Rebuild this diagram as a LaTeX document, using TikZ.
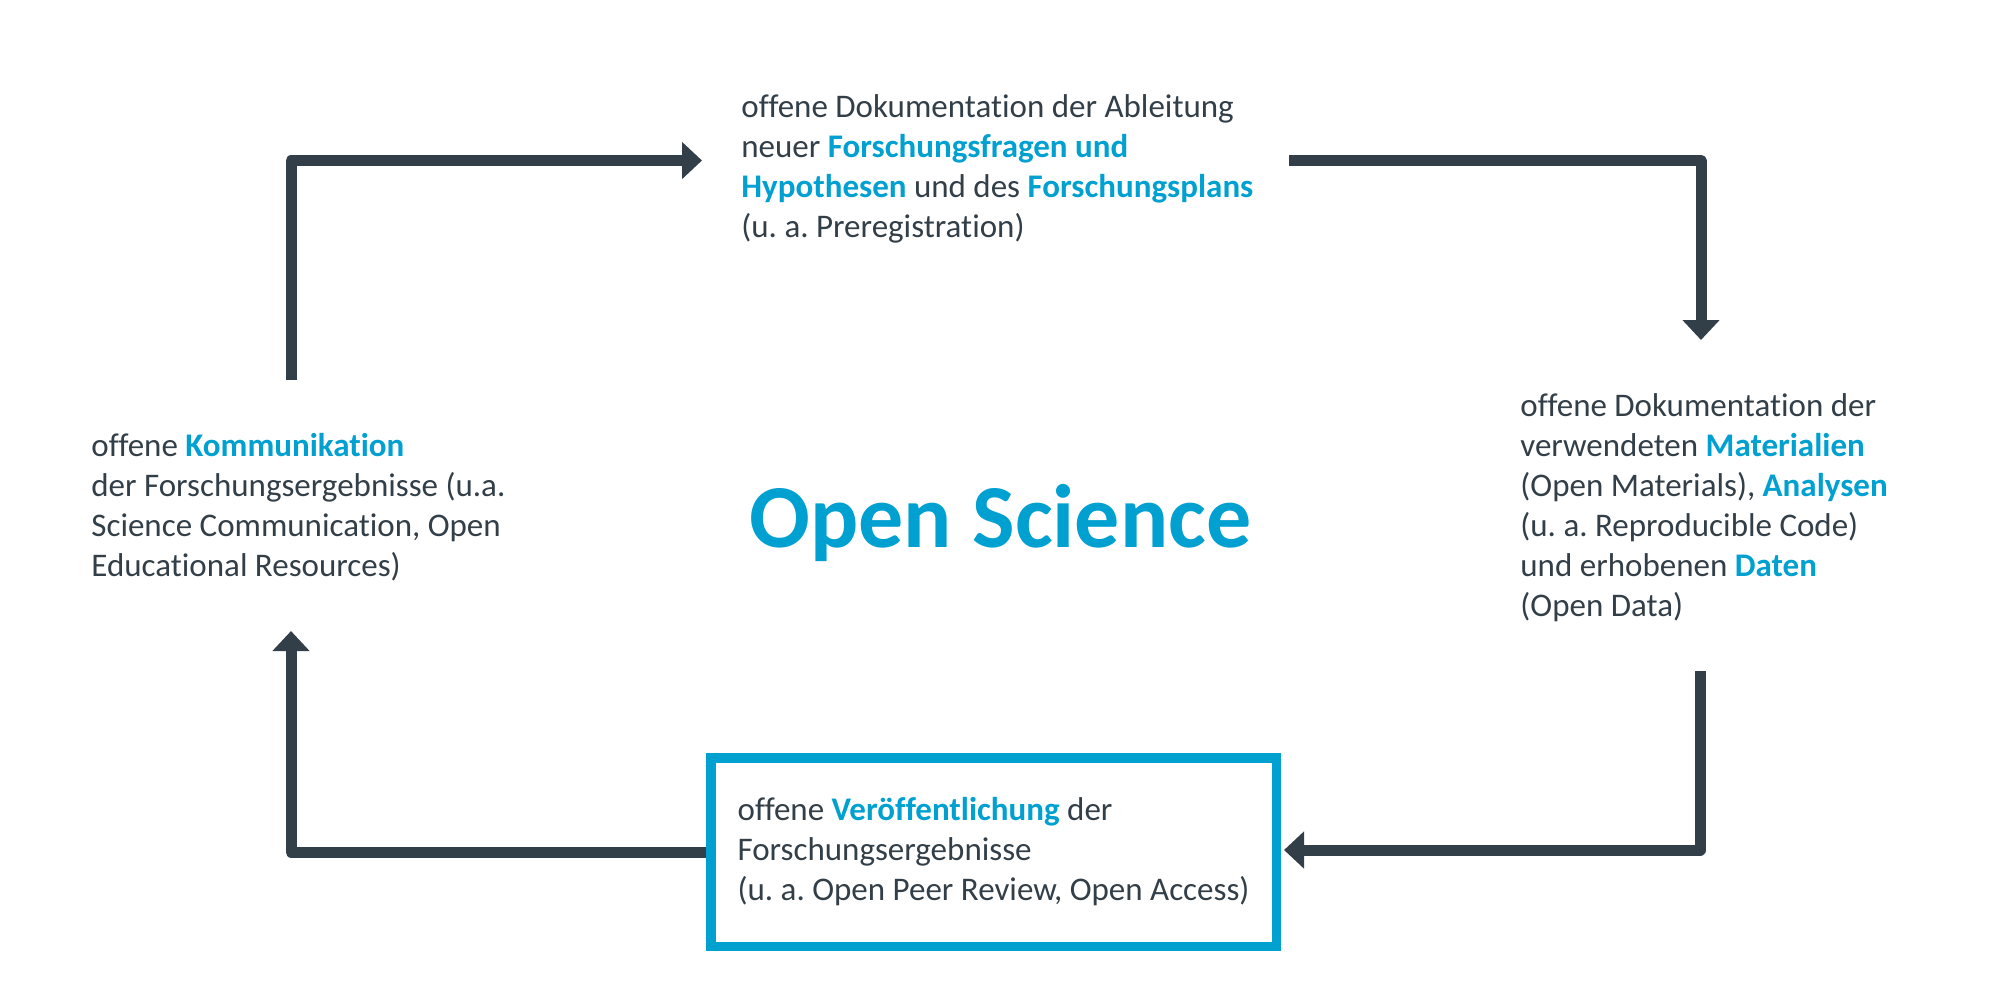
\documentclass[tikz,border=0pt]{standalone}
\usepackage{fontspec}
\setmainfont{Carlito}[Ligatures=CommonOff]
\usetikzlibrary{arrows.meta}
\definecolor{osdark}{HTML}{333F48}
\definecolor{osblue}{HTML}{00A0D1}
\newcommand{\hl}[1]{\textcolor{osblue}{\textbf{#1}}}
\frenchspacing
\tikzset{
  txt/.style={anchor=base west, align=left, inner sep=0pt, text=osdark, font=\fontsize{16.5}{20}\selectfont},
  flow/.style={draw=osdark, line width=5.5pt, -{Triangle[width=18pt,length=10pt]}, line join=round},
}
\begin{document}
\begin{tikzpicture}[x=0.5pt,y=-0.5pt]
  \useasboundingbox (0,0) rectangle (2002,993);
  \node[txt] (fragen) at (741,237) {offene Dokumentation der Ableitung\\neuer \hl{Forschungsfragen und}\\\hl{Hypothesen} und des \hl{Forschungsplans}\\(u. a. Preregistration)};
  \node[txt] (daten) at (1520,616) {offene Dokumentation der\\verwendeten \hl{Materialien}\\(Open Materials), \hl{Analysen}\\(u. a. Reproducible Code)\\und erhobenen \hl{Daten}\\(Open Data)};
  \node[txt] (komm) at (91,576) {offene \hl{Kommunikation}\\der Forschungsergebnisse (u.a.\\Science Communication, Open\\Educational Resources)};
  \node[anchor=base west, inner sep=0pt, text=osblue, font=\fontsize{45}{54}\selectfont\bfseries] (titel) at (749,547) {Open Science};
  \node[draw=osblue, line width=4.75pt, minimum width=282.75pt, minimum height=94.25pt, align=left, text=osdark, font=\fontsize{16.5}{20}\selectfont] (publ) at (993.5,852) {offene \hl{Veröffentlichung} der\\Forschungsergebnisse\\(u. a. Open Peer Review, Open Access)};
  \coordinate (k1) at (291,380);
  \coordinate (f1) at (702,160.5);
  \coordinate (f2) at (1289,160.5);
  \coordinate (d1) at (1701,340);
  \coordinate (d2) at (1700,671);
  \coordinate (p2) at (1284,850);
  \coordinate (k2) at (291,631);
  \draw[flow] (k1) |- (f1);
  \draw[flow] (f2) -| (d1);
  \draw[flow] (d2) |- (p2);
  \draw[flow] (publ.west) -| (k2);
\end{tikzpicture}
\end{document}
